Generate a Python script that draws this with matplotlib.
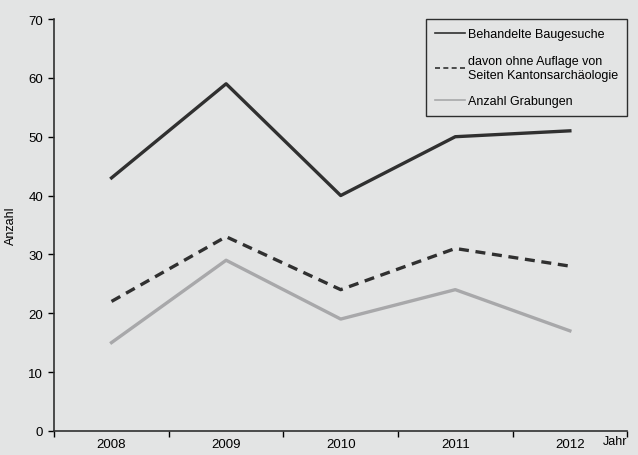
import numpy as np
import matplotlib.pyplot as plt

years = ['2008', '2009', '2010', '2011', '2012']
baugesuche = [43, 59, 40, 50, 51]
ohne_auflage = [22, 33, 24, 31, 28]
grabungen = [15, 29, 19, 24, 17]

plt.rcParams['font.family'] = ['Liberation Sans', 'DejaVu Sans']
bg = '#e3e4e4'

fig = plt.figure(figsize=(6.38, 4.56), dpi=100, facecolor=bg)
ax = fig.add_axes([0.085, 0.053, 0.898, 0.903], facecolor=bg)

x = np.arange(len(years))
ax.plot(x, baugesuche, color='#303030', lw=2.4, label='Behandelte Baugesuche')
ax.plot(x, ohne_auflage, color='#303030', lw=2.4, ls=(0, (3, 2)),
        label='davon ohne Auflage von\nSeiten Kantonsarchäologie')
ax.plot(x, grabungen, color='#a8a8aa', lw=2.4, label='Anzahl Grabungen')

ax.set_xlim(-0.5, len(years) - 0.5)
ax.set_ylim(0, 70)
ax.set_yticks(range(0, 71, 10))
ax.set_xticks(x)
ax.set_xticklabels(years)
ax.set_xticks(np.arange(-0.5, len(years), 1), minor=True)
ax.tick_params(axis='x', which='major', length=0, pad=5, labelsize=9.5)
ax.tick_params(axis='x', which='minor', length=4, width=1, direction='out')
ax.tick_params(axis='y', length=4, width=1, labelsize=9.5, pad=4)

for s in ['top', 'right']:
    ax.spines[s].set_visible(False)
for s in ['left', 'bottom']:
    ax.spines[s].set_linewidth(1.2)
    ax.spines[s].set_color('#303030')

ax.set_ylabel('Anzahl', fontsize=9, labelpad=8)
ax.text(1.0, -0.01, 'Jahr', transform=ax.transAxes, ha='right', va='top', fontsize=9)

leg = ax.legend(loc='upper right', bbox_to_anchor=(1.0, 1.0), fontsize=9,
                frameon=True, fancybox=False, handlelength=2.4, handletextpad=0.2,
                labelspacing=1.15, borderpad=0.75, borderaxespad=0.0)
leg.get_frame().set_edgecolor('black')
leg.get_frame().set_facecolor(bg)
leg.get_frame().set_linewidth(1.0)
for line in leg.get_lines():
    line.set_linewidth(1.2)

fig.savefig('out.png', dpi=100, facecolor=bg)
